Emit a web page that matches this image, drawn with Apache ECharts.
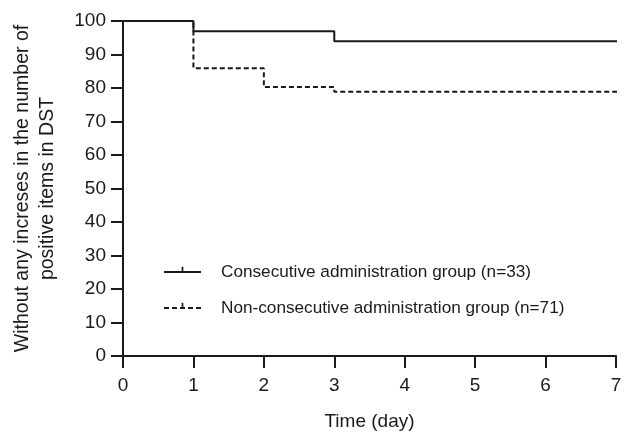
<!DOCTYPE html>
<html>
<head>
<meta charset="utf-8">
<script src="https://cdn.jsdelivr.net/npm/echarts@6/dist/echarts.min.js"></script>
<style>
  html, body { margin: 0; padding: 0; background: #ffffff; }
  #graph { width: 632px; height: 434px; }
</style>
</head>
<body>
<div id="graph"></div>
<script>
// 데이터
const seriesNames = ['Consecutive administration group (n=33)', 'Non-consecutive administration group (n=71)'];
const consecutiveTime = [0, 1, 3, 7.13];
const consecutiveValue = [100, 96.97, 93.94, 93.94];
const nonConsecutiveTime = [0, 1, 2, 3, 7.13];
const nonConsecutiveValue = [100, 85.92, 80.28, 78.87, 78.87];
const xTicks = [0, 1, 2, 3, 4, 5, 6, 7];
const yTicks = [0, 10, 20, 30, 40, 50, 60, 70, 80, 90, 100];

function pairs(xs, ys) {
  return xs.map((x, i) => [x, ys[i]]);
}

const chartDom = document.getElementById('graph');
const myChart = echarts.init(chartDom);

const font = 'Liberation Sans, Arial, sans-serif';
const ink = '#1a1a1a';
// 범례용 작은 세로 눈금 (정사각형 박스 안에서 위쪽 절반만 채움)
const tickMark = 'path://M0,0 L0.01,0 L0.01,0.01 Z M11.99,11.99 L12,11.99 L12,12 Z M5.1,0.5 L6.9,0.5 L6.9,6 L5.1,6 Z';

const option = {
  backgroundColor: '#ffffff',
  animation: false,
  grid: {
    left: 123,
    right: 16,
    top: 21,
    bottom: 78,
    containLabel: false,
    outerBoundsMode: 'none',
  },
  legend: {
    left: 158,
    top: 257,
    orient: 'vertical',
    itemWidth: 37,
    itemHeight: 14,
    itemGap: 16,
    textStyle: {
      fontFamily: font,
      fontSize: 17.2,
      lineHeight: 20,
      color: ink,
      padding: [0, 0, 0, 15],
    },
  },
  xAxis: {
    type: 'value',
    min: 0,
    max: 7,
    interval: 1,
    name: 'Time (day)',
    nameLocation: 'middle',
    nameGap: 56,
    nameTextStyle: { fontFamily: font, fontSize: 19, color: ink },
    splitLine: { show: false },
    axisLine: { lineStyle: { color: ink, width: 2 } },
    axisTick: { length: 12, lineStyle: { color: ink, width: 2 } },
    axisLabel: {
      fontFamily: font,
      fontSize: 19,
      color: ink,
      margin: 20,
      formatter: (v) => (xTicks.includes(v) ? String(v) : ''),
    },
  },
  yAxis: {
    type: 'value',
    min: 0,
    max: 100,
    interval: 10,
    name: 'Without any increses in the number of\npositive items in DST',
    nameLocation: 'middle',
    nameGap: 63,
    nameTextStyle: { fontFamily: font, fontSize: 19.5, color: ink, lineHeight: 25 },
    splitLine: { show: false },
    axisLine: { show: true, lineStyle: { color: ink, width: 2 } },
    axisTick: { show: true, length: 12, lineStyle: { color: ink, width: 2 } },
    axisLabel: {
      fontFamily: font,
      fontSize: 19,
      color: ink,
      margin: 17,
      formatter: (v) => (yTicks.includes(v) ? String(v) : ''),
    },
  },
  series: [
    {
      name: seriesNames[0],
      type: 'line',
      step: 'end',
      clip: false,
      showSymbol: false,
      symbol: tickMark,
      symbolSize: 12,
      itemStyle: { color: ink },
      lineStyle: { color: ink, width: 2 },
      data: pairs(consecutiveTime, consecutiveValue),
    },
    {
      name: seriesNames[1],
      type: 'line',
      step: 'end',
      clip: false,
      showSymbol: false,
      symbol: tickMark,
      symbolSize: 12,
      itemStyle: { color: ink },
      lineStyle: { color: ink, width: 2, type: [5, 3] },
      data: pairs(nonConsecutiveTime, nonConsecutiveValue),
    },
  ],
};

myChart.setOption(option);
</script>
</body>
</html>
